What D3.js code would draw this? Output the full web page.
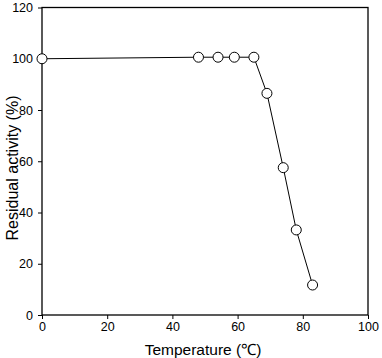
<!DOCTYPE html>
<html><head><meta charset="utf-8">
<script src="https://cdn.jsdelivr.net/npm/d3@7"></script>
<style>body{margin:0;background:#fff;} text{font-family:"Liberation Sans",Arial,sans-serif;}</style>
</head><body>
<svg id="c" width="382" height="358"></svg>
<script>
const temperature = [0, 48, 54, 59, 65, 69, 74, 78, 83];
const activity = [100, 100.6, 100.6, 100.6, 100.6, 86.5, 57.5, 33.2, 11.7];
const xTicks = [0, 20, 40, 60, 80, 100];
const yTicks = [0, 20, 40, 60, 80, 100, 120];

const svg = d3.select("#c");
const m = {left: 42, right: 368, top: 7.5, bottom: 315};
const x = d3.scaleLinear().domain([0, 100]).range([m.left, m.right]);
const y = d3.scaleLinear().domain([0, 120]).range([m.bottom, m.top]);

svg.append("rect").attr("x", m.left).attr("y", m.top)
  .attr("width", m.right - m.left).attr("height", m.bottom - m.top)
  .attr("fill", "none").attr("stroke", "#000").attr("stroke-width", 1.3);

const gx = svg.append("g").attr("transform", `translate(0,${m.bottom})`)
  .call(d3.axisBottom(x).tickValues(xTicks).tickSize(4).tickPadding(3).tickFormat(d3.format("d")));
const gy = svg.append("g").attr("transform", `translate(${m.left},0)`)
  .call(d3.axisLeft(y).tickValues(yTicks).tickSize(4).tickPadding(5).tickFormat(d3.format("d")));
[gx, gy].forEach(g => {
  g.select(".domain").remove();
  g.selectAll("line").attr("stroke", "#000");
  g.selectAll("text").attr("font-size", 12.5).attr("fill", "#000")
    .attr("font-family", "'Liberation Sans',Arial,sans-serif");
});

const data = temperature.map((t, i) => ({t, a: activity[i]}));
svg.append("path").datum(data)
  .attr("d", d3.line().x(d => x(d.t)).y(d => y(d.a)))
  .attr("fill", "none").attr("stroke", "#000").attr("stroke-width", 1);
svg.selectAll("circle.p").data(data).enter().append("circle")
  .attr("cx", d => x(d.t)).attr("cy", d => y(d.a)).attr("r", 5)
  .attr("fill", "#fff").attr("stroke", "#000").attr("stroke-width", 1);

svg.append("text").attr("x", 203).attr("y", 355).attr("text-anchor", "middle")
  .attr("font-size", 15.5).text("Temperature (℃)");
svg.append("text").attr("transform", "translate(18,168) rotate(-90)")
  .attr("text-anchor", "middle").attr("font-size", 16).text("Residual activity (%)");
</script>
</body></html>
